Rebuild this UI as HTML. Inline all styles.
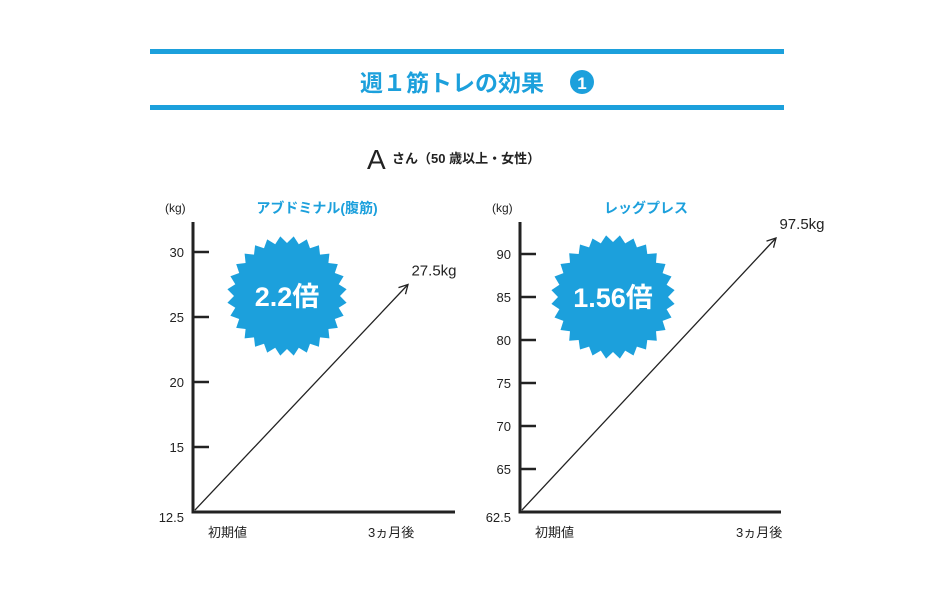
<!DOCTYPE html>
<html><head><meta charset="utf-8"><style>
body{margin:0;width:950px;height:588px;background:#fff;overflow:hidden;font-family:"Liberation Sans","Noto Sans CJK JP",sans-serif}
svg text{font-family:"Liberation Sans","Noto Sans CJK JP",sans-serif}
</style></head><body>
<svg id="chart" width="950" height="588" viewBox="0 0 950 588">
<rect x="150" y="49" width="634" height="5" fill="#1ca0dc"/>
<rect x="150" y="105" width="634" height="5" fill="#1ca0dc"/>
<text x="452" y="91" text-anchor="middle" font-size="23" font-weight="bold" fill="#1ca0dc">週１筋トレの効果</text>
<circle cx="582" cy="82" r="12" fill="#1ca0dc"/>
<text x="582" y="89" text-anchor="middle" font-size="17" font-weight="bold" fill="#fff">1</text>
<text x="367" y="169" font-size="28" fill="#222">A</text>
<text x="392" y="163" font-size="13" font-weight="bold" fill="#222">さん（50 歳以上・女性）</text>
<g id="charts"></g>
</svg>
<script>
const leftTicks = [12.5, 15, 20, 25, 30];
const leftValues = [12.5, 27.5];
const rightTicks = [62.5, 65, 70, 75, 80, 85, 90];
const rightValues = [62.5, 97.5];
const periods = ["初期値", "3ヵ月後"];
const titles = ["アブドミナル(腹筋)", "レッグプレス"];
const ratios = ["2.2倍", "1.56倍"];
const valueLabels = ["27.5kg", "97.5kg"];

const NS = "http://www.w3.org/2000/svg";
const root = document.getElementById("charts");
function mk(tag, attrs, parent) {
  const e = document.createElementNS(NS, tag);
  for (const k in attrs) e.setAttribute(k, attrs[k]);
  (parent || root).appendChild(e);
  return e;
}
const cfgs = [
  {ax: 193, right: 455, top: 222, base: 512, gap: 65, k: 13, tip: 408, ticks: leftTicks, vals: leftValues, bx: 287, by: 296, br: 60},
  {ax: 520, right: 781, top: 222, base: 512, gap: 43, k: 8.6, tip: 776, ticks: rightTicks, vals: rightValues, bx: 613, by: 297, br: 62}
];
cfgs.forEach((c, i) => {
  const g = mk("g", {});
  
  
  const origin = c.ticks[0], first = c.ticks[1];
  const y = v => v <= origin ? c.base : Math.max(c.top + 16, c.base - c.gap - (v - first) * c.k);
  const x = idx => idx === 0 ? c.ax + 2 : c.tip;
  // badge
  const n = 28, pts = [];
  for (let j = 0; j < n * 2; j++) {
    const a = Math.PI * j / n, r = j % 2 ? c.br : c.br - 7;
    pts.push((c.bx + r * Math.cos(a)).toFixed(1) + "," + (c.by + r * Math.sin(a)).toFixed(1));
  }
  const b = mk("polygon", {points: pts.join(" "), fill: "#1ca0dc"}, g);
  
  
  const bt = mk("text", {x: c.bx, y: c.by + 10, "text-anchor": "middle", "font-size": 27, "font-weight": "bold", fill: "#fff"}, g);
  bt.textContent = ratios[i];
  
  
  // axes
  const ya = mk("line", {x1: c.ax, y1: c.top, x2: c.ax, y2: c.base + 1.5, stroke: "#222", "stroke-width": 3}, g);
  
  
  const xa = mk("line", {x1: c.ax - 1.5, y1: c.base, x2: c.right, y2: c.base, stroke: "#222", "stroke-width": 3}, g);
  
  
  c.ticks.forEach((t, j) => {
    const yy = y(t);
    if (j > 0) {
      const tl = mk("line", {x1: c.ax, y1: yy, x2: c.ax + 16, y2: yy, stroke: "#222", "stroke-width": 2.5}, g);
      
      
    }
    const tt = mk("text", {x: c.ax - 9, y: yy + (j === 0 ? 10 : 5), "text-anchor": "end", "font-size": 13, fill: "#222"}, g);
    tt.textContent = t;
    
    
  });
  const u = mk("text", {x: c.ax - 28, y: 212, "font-size": 12, fill: "#222"}, g);
  u.textContent = "(kg)";
  
  
  const ti = mk("text", {x: c.ax + (i ? 126 : 124), y: 213, "text-anchor": "middle", "font-size": 14, "font-weight": "bold", fill: "#1ca0dc"}, g);
  ti.textContent = titles[i];
  
  
  periods.forEach((p, j) => {
    const pt = mk("text", {x: j ? c.tip - 40 : c.ax + 15, y: 537, "font-size": 13, fill: "#222"}, g);
    pt.textContent = p;
    
    
  });
  // arrow
  const x1 = x(0), y1 = y(c.vals[0]) - 2, x2 = x(1), y2 = y(c.vals[1]);
  const ln = mk("line", {x1, y1, x2, y2, stroke: "#222", "stroke-width": 1.3}, g);
  
  
  const ang = Math.atan2(y2 - y1, x2 - x1), L = 10;
  const h = mk("polyline", {points: `${x2 - L * Math.cos(ang - 0.5)},${y2 - L * Math.sin(ang - 0.5)} ${x2},${y2} ${x2 - L * Math.cos(ang + 0.5)},${y2 - L * Math.sin(ang + 0.5)}`, fill: "none", stroke: "#222", "stroke-width": 1.3}, g);
  
  
  const vl = mk("text", {x: x2 + 26, y: y2 - 9, "text-anchor": "middle", "font-size": 15, fill: "#222"}, g);
  vl.textContent = valueLabels[i];
  
  
});
</script>
</body></html>
